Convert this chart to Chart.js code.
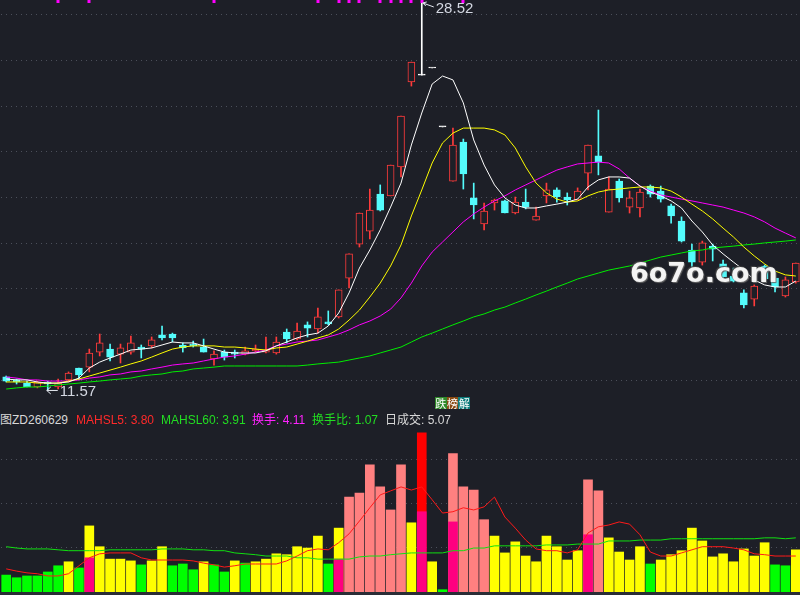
<!DOCTYPE html>
<html>
<head>
<meta charset="utf-8">
<script src="https://cdn.jsdelivr.net/npm/chart.js@4.4.1/dist/chart.umd.min.js"></script>
<style>
  html, body { margin: 0; padding: 0; background: #1d1f27; width: 800px; height: 595px; overflow: hidden; position: relative; }
  #topBox { position: absolute; left: 1px; top: 0; width: 800px; height: 400px; }
  #botBox { position: absolute; left: 1px; top: 428px; width: 800px; height: 167px; }
  #strip { position: absolute; left: 0; top: 592px; width: 800px; height: 3px; background: #2a2d36; }
  .hdr { position: absolute; top: 412px; font: 12px "Liberation Sans", "Noto Sans CJK SC", sans-serif; line-height: 16px; white-space: nowrap; }
  #badge { position: absolute; left: 435px; top: 397px; font: 11px "Noto Sans CJK SC", sans-serif; line-height: 12px; color: #fff; }
  #badge span { display: inline-block; width: 11.7px; text-align: center; }
  #mark { position: absolute; left: 630px; top: 258px; font: bold 27px "DejaVu Sans", sans-serif; color: #f4f4f4; line-height: 30px;
          text-shadow: 1px 1px 1px #6a6a6a, -1px -1px 1px #444; }
</style>
</head>
<body>
<div id="topBox"><canvas id="priceChart"></canvas></div>
<div id="botBox"><canvas id="volChart"></canvas></div>
<div id="strip"></div>
<div id="badge"><span style="background:#2f8a2a">跌</span><span style="background:#8a4a12">榜</span><span style="background:#0e7c7c">解</span></div>
<div id="hdrRow"></div>
<div id="mark">6o7o.com</div>
<script>
// candles (price)
const open = [12.14,12.01,11.87,11.70,11.92,11.70,12.01,12.53,12.57,13.23, 13.36,13.14,13.23,13.45,13.50,13.98,14.02,13.54,13.58,13.45,
  12.93,13.23,13.23,13.14,13.28,13.23,13.19,14.11,13.80,14.42, 14.24,14.55,14.77,16.47,17.96,18.53,20.15,20.07,21.34,25.06,
  25.36,25.67,23.09,20.72,22.43,19.98,18.84,19.76,19.85,19.32, 19.80,19.01,20.07,20.33,20.02,19.89,21.07,21.82,19.36,20.72,
  19.58,19.54,20.50,20.28,19.63,18.97,17.70,17.17,17.87,17.09, 16.56,15.82,15.55,17.00,16.47,15.69,16.30];
const high = [12.18,12.05,11.96,11.96,11.96,12.05,12.36,12.53,13.36,14.02, 13.58,13.58,13.93,13.54,13.89,14.37,14.06,13.63,13.71,13.80,
  13.28,13.32,13.32,13.45,13.54,13.89,13.89,14.24,14.50,14.55, 15.16,15.03,15.95,17.53,19.32,20.37,20.55,21.42,23.57,25.93,
  28.52,25.67,23.09,23.04,22.56,20.63,19.76,19.93,19.89,20.02, 20.37,19.58,20.63,20.42,20.20,20.42,22.30,23.83,20.90,20.81,
  20.28,20.37,20.55,20.50,19.71,19.15,17.96,18.09,17.96,17.26, 16.91,15.95,16.17,17.04,16.56,16.52,17.13];
const low = [11.92,11.83,11.70,11.66,11.57,11.61,11.92,12.01,12.36,13.06, 12.84,12.75,13.14,12.97,13.41,13.76,13.67,13.23,13.45,13.23,
  12.66,12.88,12.97,13.10,13.23,13.19,13.14,13.63,13.76,13.89, 14.06,14.42,14.72,16.04,17.83,18.18,19.41,20.07,20.90,24.88,
  25.36,25.67,23.09,20.72,20.37,19.06,18.58,19.45,19.32,19.28, 19.50,19.01,19.76,19.80,19.67,19.89,20.33,20.99,19.36,19.80,
  19.32,19.15,20.02,19.80,18.88,18.05,16.82,17.04,17.22,16.39, 16.30,15.16,15.25,16.39,15.86,15.64,16.25];
const close = [11.96,11.92,11.70,11.92,11.83,11.87,12.31,12.23,13.19,13.63, 13.01,13.41,13.63,13.36,13.76,13.85,13.85,13.41,13.50,13.23,
  13.14,13.01,13.14,13.28,13.36,13.32,13.67,13.80,14.15,14.28, 14.77,14.46,15.95,17.53,19.32,19.45,19.45,21.42,23.57,25.93,
  25.36,25.67,23.09,22.30,21.03,19.67,19.41,19.89,19.32,19.80, 19.58,19.19,20.33,20.02,19.89,20.28,22.30,21.55,20.37,19.98,
  19.98,20.24,20.15,19.93,19.19,18.09,17.17,18.01,17.74,16.52, 16.34,15.29,16.12,16.43,16.08,16.39,17.13];

// moving averages of price
const ma5 = [12.05,12.01,12.01,11.92,11.87,11.87,11.92,12.09,12.53,12.79, 12.97,13.14,13.32,13.36,13.41,13.54,13.67,13.63,13.63,13.50,
  13.36,13.23,13.19,13.19,13.19,13.28,13.50,13.67,13.85,13.98, 14.06,14.37,14.94,15.82,16.91,17.70,18.58,19.58,20.63,22.30,
  23.70,24.97,25.32,25.15,24.14,22.52,21.42,20.55,19.98,19.67, 19.54,19.54,19.63,19.71,19.80,19.93,20.46,20.77,20.90,20.90,
  20.85,20.50,20.24,20.07,19.85,19.54,18.97,18.49,17.92,17.53, 17.17,16.82,16.39,16.17,16.08,16.08,16.34];
const ma10 = [11.92,11.92,11.92,11.87,11.87,11.87,11.96,12.05,12.18,12.31, 12.44,12.57,12.71,12.84,13.01,13.19,13.36,13.45,13.50,13.50,
  13.50,13.45,13.45,13.41,13.36,13.32,13.41,13.45,13.58,13.71, 13.85,13.98,14.24,14.63,15.07,15.64,16.25,17.00,17.92,19.19,
  20.33,21.51,22.39,22.82,23.04,23.04,23.04,22.96,22.74,22.17, 21.34,20.63,20.20,19.93,19.80,19.85,20.07,20.24,20.33,20.37,
  20.42,20.46,20.46,20.42,20.28,20.02,19.71,19.41,19.06,18.66, 18.27,17.83,17.44,17.09,16.78,16.61,16.56];
const ma20 = [12.14,12.09,12.01,12.01,11.96,11.96,11.96,12.01,12.09,12.14, 12.23,12.27,12.36,12.40,12.49,12.57,12.66,12.71,12.75,12.84,
  12.93,13.01,13.06,13.14,13.23,13.32,13.50,13.58,13.67,13.71, 13.76,13.89,14.02,14.20,14.42,14.59,14.81,15.11,15.60,16.25,
  17.00,17.61,18.05,18.49,18.93,19.28,19.58,19.85,20.07,20.33, 20.55,20.77,20.99,21.20,21.34,21.47,21.51,21.55,21.51,21.25,
  20.85,20.50,20.28,20.11,20.02,19.93,19.85,19.76,19.67,19.58, 19.45,19.32,19.15,18.93,18.66,18.44,18.23];
const ma60 = [11.61,11.66,11.70,11.70,11.74,11.79,11.83,11.87,11.92,11.96, 12.01,12.05,12.09,12.18,12.23,12.27,12.36,12.40,12.49,12.53,
  12.57,12.62,12.62,12.62,12.62,12.62,12.62,12.62,12.62,12.66, 12.71,12.75,12.79,12.88,12.97,13.06,13.19,13.32,13.45,13.67,
  13.89,14.06,14.24,14.42,14.59,14.77,14.90,15.07,15.20,15.38, 15.55,15.73,15.90,16.08,16.25,16.43,16.56,16.69,16.82,16.91,
  17.00,17.13,17.26,17.39,17.48,17.57,17.66,17.70,17.79,17.83, 17.87,17.92,17.96,18.01,18.05,18.09,18.14];

// turnover bars and their averages
const vol = [0.38,0.32,0.36,0.36,0.45,0.59,0.68,0.54,1.49,1.02, 0.74,0.74,0.70,0.61,0.70,1.02,0.59,0.63,0.50,0.68,
  0.61,0.45,0.70,0.65,0.68,0.74,0.86,0.84,1.02,0.99, 1.26,0.63,1.44,2.14,2.23,2.87,2.37,1.85,2.87,1.56,
  3.59,0.68,0.05,3.12,2.37,2.30,1.63,1.26,0.88,1.13, 0.81,0.68,1.26,1.02,0.72,0.93,2.53,2.28,1.22,0.90,
  0.72,1.02,0.63,0.72,0.84,0.93,1.44,1.15,0.79,0.86, 0.68,0.97,0.81,1.11,0.61,0.59,0.95];
const volType = ['g','g','g','g','g','g','y','g','y','y', 'y','y','y','g','y','y','g','g','g','y',
  'g','g','y','g','y','y','y','y','y','y', 'y','g','y','s','s','s','s','s','s','y',
  'r','y','g','s','s','s','s','y','y','y', 'y','y','y','y','y','y','s','s','y','y',
  'y','y','g','y','y','y','y','y','y','y', 'y','y','y','y','g','g','y'];
const volInner = [null,null,null,null,null,null,null,null,0.77,null, null,null,null,null,null,null,null,null,null,null,
  null,null,null,null,null,null,null,null,null,null, null,null,0.74,null,null,null,null,null,null,null,
  1.81,null,null,1.58,null,null,null,null,null,null, null,null,null,null,null,null,1.29,null,null,null,
  null,null,null,null,null,null,null,null,null,null, null,null,null,null,null,null,null];
const hsl5 = [0.52,0.47,0.43,0.41,0.36,0.36,0.41,0.59,0.77,0.86, 0.88,0.88,0.88,0.77,0.72,0.72,0.72,0.72,0.70,0.65,
  0.61,0.56,0.59,0.63,0.63,0.63,0.63,0.70,0.81,0.93, 0.97,0.95,1.11,1.31,1.60,1.90,2.19,2.28,2.37,2.30,
  2.37,2.08,1.78,1.81,1.90,1.85,1.92,2.14,1.69,1.44, 1.17,0.97,0.93,0.93,0.88,0.95,1.33,1.47,1.51,1.58,
  1.53,1.29,0.90,0.81,0.81,0.88,0.95,1.02,1.02,1.02, 0.99,0.95,0.86,0.84,0.81,0.81,0.81];
const hsl60 = [1.02,0.99,0.97,0.97,0.97,0.95,0.93,0.93,0.93,0.93, 0.95,0.95,0.95,0.95,0.95,0.97,0.97,0.97,0.95,0.95,
  0.93,0.93,0.88,0.86,0.84,0.81,0.81,0.81,0.77,0.77, 0.74,0.74,0.74,0.74,0.79,0.81,0.81,0.84,0.86,0.88,
  0.88,0.88,0.88,0.93,0.93,0.99,0.99,1.04,1.04,1.04, 1.04,1.04,1.06,1.06,1.06,1.08,1.08,1.08,1.15,1.15,
  1.15,1.17,1.17,1.17,1.20,1.20,1.20,1.20,1.20,1.20, 1.20,1.20,1.20,1.22,1.22,1.20,1.22];

// signal days (1-based) shown as marks along the top edge
const signalDays = [6, 9, 21, 31, 33, 34, 35, 37, 38, 39, 40, 41, 45];
const priceTicks = [12, 14, 16, 18, 20, 22, 24, 26, 28];
const volTicks = [1, 2, 3];
const days = open.map((_, i) => 'D' + (i + 1));

const headerItems = [
  { text: '图ZD260629', color: '#d8d8d8', left: 0 },
  { text: 'MAHSL5: 3.80', color: '#ff2a2a', left: 76 },
  { text: 'MAHSL60: 3.91', color: '#22dd22', left: 161 },
  { text: '换手: 4.11', color: '#ff22ff', left: 252 },
  { text: '换手比: 1.07', color: '#22dd22', left: 312 },
  { text: '日成交: 5.07', color: '#d8d8d8', left: 385 }
];

const BG = '#1d1f27';
const UP = '#ff3b3b', DOWN = '#54fcfc', FLAT = '#ffffff';
const volColor = { g: '#00ff00', y: '#ffff00', s: '#ff8080', r: '#ff0000' };
const gridColor = '#4b4f5a';

headerItems.forEach(h => {
  const s = document.createElement('div');
  s.className = 'hdr';
  s.style.left = h.left + 'px';
  s.style.color = h.color;
  s.textContent = h.text;
  document.body.appendChild(s);
});

const candleColor = open.map((o, i) => close[i] > o ? UP : (close[i] < o ? DOWN : FLAT));
const bodyFill = candleColor.map(c => c === UP ? BG : c);

const topMarks = {
  id: 'topMarks',
  afterDatasetsDraw(chart) {
    const { ctx, scales: { x, y }, chartArea } = chart;
    ctx.save();
    ctx.fillStyle = '#ff00ff';
    signalDays.forEach(d => {
      const px = Math.round(x.getPixelForValue(d - 1));
      ctx.fillRect(px - 1.5, chartArea.top, 3, 3);
    });

    // highest high / lowest low labels
    const hi = high.indexOf(Math.max(...high));
    const lo = low.indexOf(Math.min(...low));
    ctx.strokeStyle = '#e4e8f0';
    ctx.fillStyle = '#d4d8e2';
    ctx.lineWidth = 1;
    ctx.font = '15px "Liberation Sans Narrow", "Liberation Sans", sans-serif';
    ctx.textBaseline = 'middle';

    const hx = x.getPixelForValue(hi), hy = y.getPixelForValue(high[hi]);
    ctx.beginPath();
    ctx.moveTo(hx + 1, hy); ctx.lineTo(hx + 12, hy + 4);
    ctx.moveTo(hx + 1, hy); ctx.lineTo(hx + 5, hy - 1);
    ctx.moveTo(hx + 1, hy); ctx.lineTo(hx + 4, hy + 3);
    ctx.stroke();
    ctx.fillText(high[hi].toFixed(2), hx + 14, hy + 6);

    const lx = x.getPixelForValue(lo), ly = y.getPixelForValue(low[lo]);
    ctx.beginPath();
    ctx.moveTo(lx - 1, ly + 0.5); ctx.lineTo(lx + 10, ly + 0.5);
    ctx.moveTo(lx - 1, ly + 0.5); ctx.lineTo(lx + 3, ly - 3);
    ctx.moveTo(lx - 1, ly + 0.5); ctx.lineTo(lx + 3, ly + 4);
    ctx.stroke();
    ctx.fillText(low[lo].toFixed(2), lx + 12, ly + 2);
    ctx.restore();
  }
};

function lineSet(data, color, order) {
  return { type: 'line', data: data, borderColor: color, borderWidth: 1, pointRadius: 0, tension: 0, order: order };
}

new Chart(document.getElementById('priceChart'), {
  type: 'bar',
  data: {
    labels: days,
    datasets: [
      lineSet(ma5, '#ffffff', 1),
      lineSet(ma10, '#ffff00', 2),
      lineSet(ma20, '#ff00ff', 3),
      lineSet(ma60, '#00ee00', 4),
      {
        data: open.map((o, i) => [o, close[i]]),
        backgroundColor: bodyFill, borderColor: candleColor, borderWidth: 1, borderSkipped: false,
        barThickness: 7, minBarLength: 1, grouped: false, order: 5
      },
      {
        data: low.map((l, i) => [l, high[i]]),
        backgroundColor: candleColor, borderWidth: 0, barThickness: 1, grouped: false, order: 6
      }
    ]
  },
  options: {
    responsive: true, maintainAspectRatio: false, animation: false,
    layout: { padding: 0 },
    plugins: { legend: { display: false }, tooltip: { enabled: false } },
    scales: {
      x: { display: false, offset: true },
      y: {
        min: 11.13, max: 28.65,
        ticks: { display: false, padding: 0 },
        grid: { color: gridColor, drawTicks: false },
        border: { display: false, dash: [1, 4] },
        afterBuildTicks: s => { s.ticks = priceTicks.map(v => ({ value: v })); }
      }
    }
  },
  plugins: [topMarks]
});

new Chart(document.getElementById('volChart'), {
  type: 'bar',
  data: {
    labels: days,
    datasets: [
      lineSet(hsl5, '#ff1a1a', 1),
      lineSet(hsl60, '#11e011', 2),
      { data: volInner, backgroundColor: '#ff0080', barThickness: 9, grouped: false, order: 3 },
      { data: vol, backgroundColor: volType.map(t => volColor[t]), barThickness: 9, grouped: false, order: 4 }
    ]
  },
  options: {
    responsive: true, maintainAspectRatio: false, animation: false,
    layout: { padding: 0 },
    plugins: { legend: { display: false }, tooltip: { enabled: false } },
    scales: {
      x: { display: false, offset: true },
      y: {
        min: -0.07, max: 3.70,
        ticks: { display: false, padding: 0 },
        grid: { color: gridColor, drawTicks: false },
        border: { display: false, dash: [1, 4] },
        afterBuildTicks: s => { s.ticks = volTicks.map(v => ({ value: v })); }
      }
    }
  }
});
</script>
</body>
</html>
